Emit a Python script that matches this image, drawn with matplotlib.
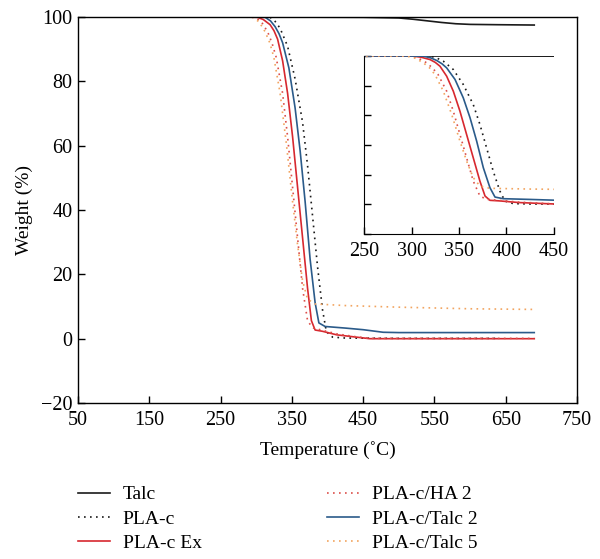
import matplotlib
matplotlib.use("Agg")
import matplotlib.pyplot as plt

plt.rcParams['font.family'] = ['Liberation Serif', 'DejaVu Serif']

# ---- data ----
talc_T = [50, 300, 450, 500, 520, 540, 560, 580, 600, 640, 690]
talc_W = [100, 100, 99.9, 99.7, 99.3, 98.8, 98.3, 97.9, 97.7, 97.6, 97.5]

plac_T = [50, 290, 310, 319.5, 326, 333.5, 344, 354.5, 365, 372, 379, 386, 393, 398.4, 407, 425, 500, 640]
plac_W = [100, 100, 100, 99.9, 98.8, 96.5, 90.9, 80.8, 67.3, 53.9, 38.2, 22.4, 9, 2.2, 0.5, 0.2, 0.1, 0.1]

placex_T = [50, 280, 301.9, 310, 319.5, 325, 330, 337, 344, 351, 358, 365, 372, 377.4, 382.6, 393, 413, 440, 459.5, 690]
placex_W = [100, 100, 99.9, 99.2, 97.6, 95.7, 93.1, 86.4, 76.3, 62.8, 47.1, 31.4, 15.7, 5.6, 2.7, 2.3, 1.2, 0.5, 0.0, 0.0]

plaha_T = [50, 280, 298.4, 307, 316, 322, 328, 337, 344, 351, 358, 365, 372, 379, 393, 413, 440, 460, 690]
plaha_W = [100, 100, 99.9, 98.6, 95.4, 92.0, 87.5, 76.3, 62.8, 47.1, 31.4, 15.7, 5.6, 3.4, 2.6, 1.5, 0.6, 0.1, 0.1]

platalc2_T = [50, 290, 312.5, 320, 326.5, 332, 337, 345.8, 354.5, 361.6, 368.6, 375.6, 382.6, 387.9, 396.6, 425, 450, 478, 500, 690]
platalc2_W = [100, 100, 99.9, 98.8, 97, 94.8, 92, 84.2, 71.8, 58.4, 42.6, 24.7, 11.2, 4.9, 3.8, 3.3, 2.8, 2.0, 1.9, 1.9]

platalc5_T = [50, 275, 295, 304, 312.5, 319, 324.7, 333.5, 342.3, 351, 358, 365, 372, 382.6, 425, 500, 600, 690]
platalc5_W = [100, 100, 99.9, 98.5, 95.4, 92.0, 87.5, 76.3, 60.6, 42.6, 29.2, 18, 12.3, 10.8, 10.3, 9.8, 9.3, 9.1]

series = [
    ("Talc", talc_T, talc_W, "#1a1a1a", "-"),
    ("PLA-c", plac_T, plac_W, "#1a1a1a", (0, (1, 2.6))),
    ("PLA-c Ex", placex_T, placex_W, "#d7282f", "-"),
    ("PLA-c/HA 2", plaha_T, plaha_W, "#dc4f4a", (0, (1, 2.6))),
    ("PLA-c/Talc 2", platalc2_T, platalc2_W, "#2b5b8a", "-"),
    ("PLA-c/Talc 5", platalc5_T, platalc5_W, "#f2a45f", (0, (1, 2.6))),
]

main_xticks = [50, 150, 250, 350, 450, 550, 650, 750]
main_yticks = [-20, 0, 20, 40, 60, 80, 100]
inset_xticks = [250, 300, 350, 400, 450]
inset_yticks = [-20, 0, 20, 40, 60, 80, 100]

fig = plt.figure(figsize=(6.0, 5.59), dpi=100)
ax = fig.add_axes([0.13, 0.279, 0.8317, 0.6906])
lines = []
for name, T, W, c, ls in series:
    ln, = ax.plot(T, W, color=c, linestyle=ls, linewidth=1.2, label=name)
    lines.append(ln)
ax.set_xlim(50, 750)
ax.set_ylim(-20, 100)
ax.set_xticks(main_xticks)
ax.set_yticks(main_yticks)
ax.set_yticklabels(["\u221220" if v < 0 else str(v) for v in main_yticks])
ax.tick_params(direction='in', length=5, width=1, labelsize=14.5, top=False, right=False)
ax.tick_params(axis='x', pad=6)
ax.tick_params(axis='y', pad=4)
for s in ax.spines.values():
    s.set_linewidth(1.0)
ax.set_xlabel("Temperature (\u02daC)", fontsize=14, labelpad=8)
ax.set_ylabel("Weight (%)", fontsize=14, labelpad=6)

# inset
axi = fig.add_axes([0.6067, 0.5814, 0.3166, 0.3184])
for name, T, W, c, ls in series:
    axi.plot(T, W, color=c, linestyle=ls, linewidth=1.2)
axi.set_xlim(250, 450)
axi.set_ylim(-20, 100)
axi.set_xticks(inset_xticks)
axi.set_yticks(inset_yticks)
axi.set_yticklabels([])
axi.spines['top'].set_visible(False)
axi.spines['right'].set_visible(False)
axi.tick_params(direction='in', length=5, width=1, labelsize=14.5, pad=6)
axi.patch.set_alpha(0)

# legend below
common = dict(loc='upper left', frameon=False, fontsize=14, handlelength=1.65,
              labelspacing=0.35, handletextpad=0.65, borderpad=0, borderaxespad=0)
fig.legend(handles=lines[:3], bbox_to_anchor=(0.13, 0.131), **common)
fig.legend(handles=lines[3:], bbox_to_anchor=(0.545, 0.131), **common)

fig.savefig("out.png", dpi=100)
